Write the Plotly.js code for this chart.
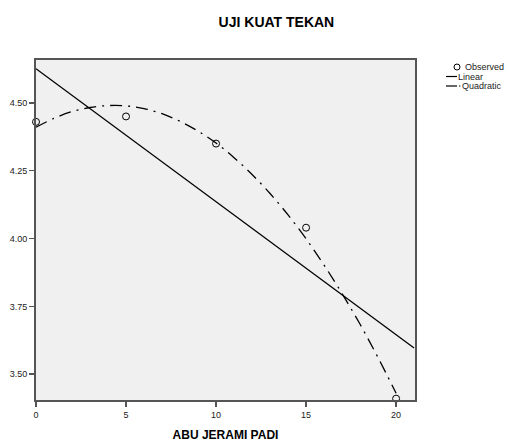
<!DOCTYPE html>
<html><head><meta charset="utf-8">
<script src="https://cdn.plot.ly/plotly-3.0.1.min.js"></script>
<style>body{margin:0;background:#fff}#c{width:510px;height:443px}</style>
</head><body><div id="c"></div>
<script>
const obsX = [0, 5, 10, 15, 20];
const obsY = [4.43, 4.45, 4.35, 4.04, 3.41];
const linX = [0, 21];
const linY = [4.626, 3.597];
const quadX = [0,1,2,3,4,5,6,7,8,9,10,11,12,13,14,15,16,17,18,19,20];
const quadY = [4.410,4.443,4.468,4.483,4.490,4.489,4.479,4.460,4.432,4.396,4.352,4.298,4.236,4.166,4.087,3.999,3.902,3.797,3.684,3.561,3.430];
const yTicks = [3.50, 3.75, 4.00, 4.25, 4.50];
const xTicks = [0, 5, 10, 15, 20];
const seriesNames = ['Observed', 'Linear', 'Quadratic'];

const W = 510, H = 443, M = {l: 36, r: 95, t: 60, b: 43};
const pw = W - M.l - M.r, ph = H - M.t - M.b;
const px = v => (v - M.l) / pw;          // pixel x -> paper
const py = v => (H - M.b - v) / ph;      // pixel y -> paper

const dash = '12px,6px,2px,6px';
const data = [
  {x: obsX, y: obsY, type: 'scatter', mode: 'markers', name: seriesNames[0],
   marker: {symbol: 'circle-open', size: 7, color: '#000', line: {width: 1, color: '#000'}}, cliponaxis: false},
  {x: linX, y: linY, type: 'scatter', mode: 'lines', name: seriesNames[1],
   line: {color: '#000', width: 1.3}},
  {x: quadX, y: quadY, type: 'scatter', mode: 'lines', name: seriesNames[2],
   line: {color: '#000', width: 1.3, dash: dash, shape: 'spline'}}
];

const legRows = [67, 76.5, 86];
const shapes = [
  {type: 'circle', xref: 'paper', yref: 'paper', x0: px(454), x1: px(460), y0: py(legRows[0] - 3), y1: py(legRows[0] + 3),
   line: {color: '#000', width: 1}, fillcolor: 'rgba(0,0,0,0)'},
  {type: 'line', xref: 'paper', yref: 'paper', x0: px(446), x1: px(457), y0: py(legRows[1]), y1: py(legRows[1]),
   line: {color: '#000', width: 1.2}},
  {type: 'line', xref: 'paper', yref: 'paper', x0: px(446), x1: px(457), y0: py(legRows[2]), y1: py(legRows[2]),
   line: {color: '#000', width: 1.2}},
  {type: 'line', xref: 'paper', yref: 'paper', x0: px(459), x1: px(460.3), y0: py(legRows[2]), y1: py(legRows[2]),
   line: {color: '#000', width: 1.2}}
];
const legX = [464, 457, 461];
const annotations = seriesNames.map((n, i) => ({
  text: n, xref: 'paper', yref: 'paper', x: px(legX[i]), y: py(legRows[i]), xanchor: 'left', yanchor: 'middle',
  showarrow: false, font: {size: 9, color: '#222'}, borderpad: 0
}));

const layout = {
  width: W, height: H,
  margin: M,
  paper_bgcolor: '#fff', plot_bgcolor: '#f0f0f0',
  font: {family: 'Liberation Sans, Arial, sans-serif', color: '#222', size: 9},
  title: {text: '<b>UJI KUAT TEKAN</b>', x: 0.542, xanchor: 'center', y: 1 - 22 / H, yanchor: 'middle',
          font: {size: 14, color: '#000', family: 'Liberation Sans, Arial, sans-serif'}},
  xaxis: {range: [0, 21.05], tickvals: xTicks, ticktext: xTicks.map(String), showgrid: false, zeroline: false,
          showline: true, mirror: true, linecolor: '#555', linewidth: 2, ticks: 'outside', ticklen: 5,
          tickcolor: '#555', tickwidth: 1.5, tickfont: {size: 9, color: '#222'},
          title: {text: '<b>ABU JERAMI PADI</b>', standoff: 12, font: {size: 12, color: '#000'}}},
  yaxis: {range: [3.405, 4.658], tickvals: yTicks, ticktext: yTicks.map(v => v.toFixed(2)), showgrid: false, zeroline: false,
          showline: true, mirror: true, linecolor: '#555', linewidth: 2, ticks: 'outside', ticklen: 5,
          tickcolor: '#555', tickwidth: 1.5, tickfont: {size: 9, color: '#222'}},
  showlegend: false,
  shapes: shapes,
  annotations: annotations
};
Plotly.newPlot('c', data, layout, {displayModeBar: false, staticPlot: true});
</script></body></html>
